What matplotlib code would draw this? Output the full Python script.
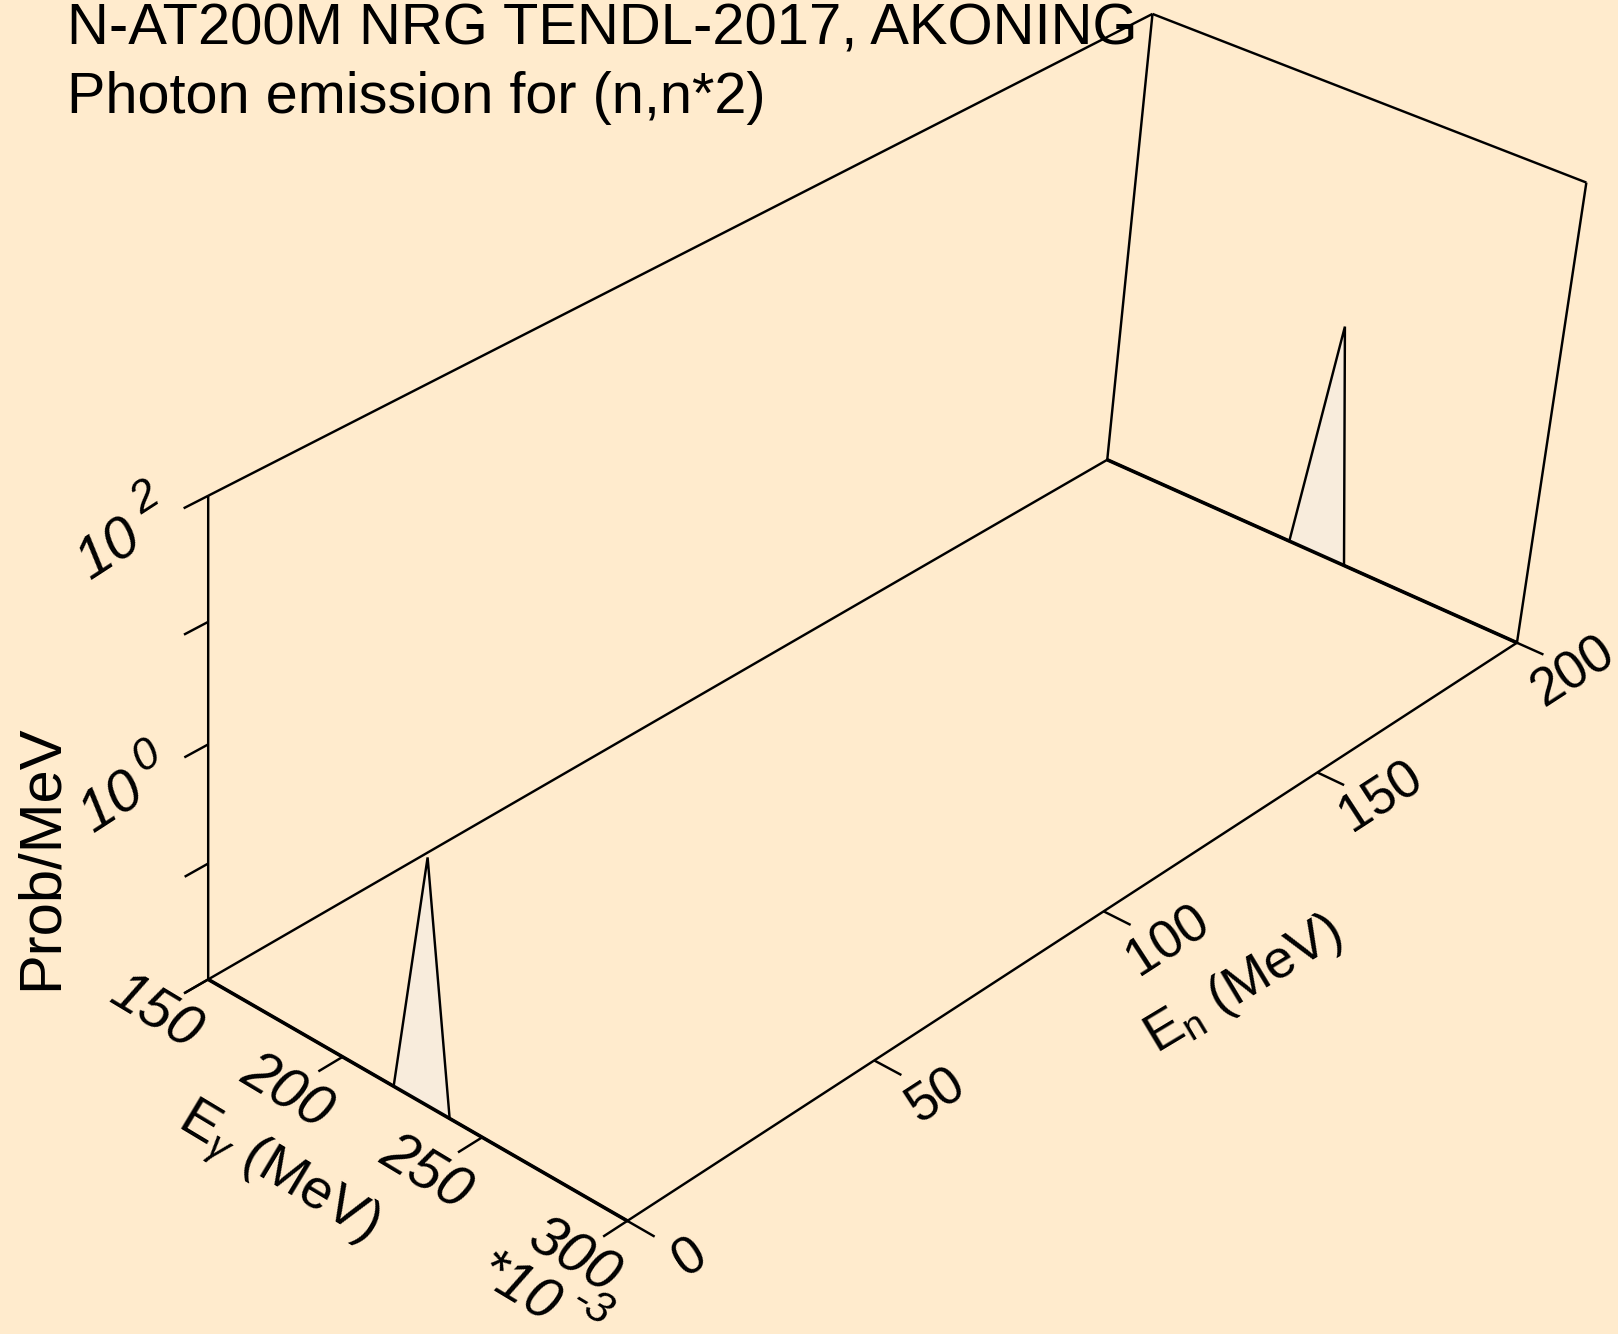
import numpy as np
import matplotlib
matplotlib.use('Agg')
import matplotlib.pyplot as plt

# Data
e_gamma = [150, 218.5, 228.4, 238.5, 300]  # *10^-3 MeV
prob = [0.01, 0.01, 1.12, 0.01, 0.01]
e_n_curves = [0, 200]

eg_lim = (150, 300)
en_lim = (0, 200)
prob_lim = (0.01, 100)
eg_ticks = [150, 200, 250, 300]
eg_labels = ['150', '200', '250', '300']
en_ticks = [0, 50, 100, 150, 200]
en_labels = ['0', '50', '100', '150', '200']
prob_ticks = [0.01, 0.1, 1, 10, 100]

title_lines = ['N-AT200M NRG TENDL-2017, AKONING', 'Photon emission for (n,n*2)']

# Camera fitted to the box, (u, v, w, 1) -> pixels
camera = np.array([
    [384.209509, 1058.4564553, -11.3963708, 208.1826246],
    [173.4971022, -453.4358564, -510.813463, 979.4067444],
    [-0.0556866, 0.143952, -0.0547989, 1.0],
])

BG = '#FFEBCD'
FILL = '#F8ECDC'


def project(eg, en, p):
    eg, en, p = np.broadcast_arrays(np.asarray(eg, float), np.asarray(en, float), np.asarray(p, float))
    u = (eg - eg_lim[0]) / (eg_lim[1] - eg_lim[0])
    v = (en - en_lim[0]) / (en_lim[1] - en_lim[0])
    w = (np.log10(p) - np.log10(prob_lim[0])) / (np.log10(prob_lim[1]) - np.log10(prob_lim[0]))
    q = camera @ np.vstack([u, v, w, np.ones_like(u)])
    return q[0] / q[2], q[1] / q[2]


plt.rcParams['font.family'] = ['Liberation Sans']
plt.rcParams['mathtext.fontset'] = 'custom'
plt.rcParams['mathtext.rm'] = 'Liberation Sans:italic'
plt.rcParams['mathtext.it'] = 'Liberation Sans:italic'
plt.rcParams['mathtext.sf'] = 'Liberation Sans'
plt.rcParams['mathtext.default'] = 'rm'

fig = plt.figure(figsize=(16.18, 13.34), dpi=100, facecolor=BG)
ax = fig.add_axes([0, 0, 1, 1])
ax.set_xlim(0, 1618)
ax.set_ylim(1334, 0)
ax.axis('off')

line_kw = dict(color='black', lw=1.75, solid_capstyle='butt', solid_joinstyle='miter')
text_kw = dict(ha='center', va='center', rotation_mode='anchor')
eg0, eg1 = eg_lim
en0, en1 = en_lim
p0, p1 = prob_lim

# Box: floor and the two back walls
box_edges = [
    ((eg0, eg1), (en0, en0), (p0, p0)),
    ((eg1, eg1), (en0, en1), (p0, p0)),
    ((eg0, eg1), (en1, en1), (p0, p0)),
    ((eg0, eg0), (en0, en1), (p0, p0)),
    ((eg0, eg0), (en0, en0), (p0, p1)),
    ((eg0, eg0), (en1, en1), (p0, p1)),
    ((eg1, eg1), (en1, en1), (p0, p1)),
    ((eg0, eg0), (en0, en1), (p1, p1)),
    ((eg0, eg1), (en1, en1), (p1, p1)),
]
for eg_e, en_e, p_e in box_edges:
    ax.plot(*project(eg_e, en_e, p_e), **line_kw)

# Spectra
for en in e_n_curves:
    x, y = project(e_gamma, en, prob)
    ax.fill(x, y, facecolor=FILL, edgecolor='none', zorder=3)
    ax.plot(x, y, color='black', lw=1.75, solid_joinstyle='miter', zorder=4)
    ax.plot(*project(eg_lim, en, p0), color='black', lw=2.6, solid_capstyle='butt', zorder=4)

# Ticks
for t in eg_ticks:
    ax.plot(*project(t, [en0, en0 - 4.7], p0), **line_kw)
for t in en_ticks:
    ax.plot(*project([eg1, eg1 + 9.2], t, p0), **line_kw)
for t in prob_ticks:
    ax.plot(*project(eg0, [en0, en0 - 4.5], t), **line_kw)

# Tick labels
eg_pos = [(155, 1013), (286, 1092), (425, 1173), (573, 1257)]
for (x, y), s in zip(eg_pos, eg_labels):
    ax.text(x, y, s, fontsize=41, style='italic', rotation=-31, **text_kw)
en_pos = [(690, 1258), (937, 1096), (1168, 941), (1381, 797), (1573, 672)]
for (x, y), s in zip(en_pos, en_labels):
    ax.text(x, y, s, fontsize=38, rotation=33, **text_kw)
ax.text(109, 550, '10', fontsize=42, style='italic', rotation=33, **text_kw)
ax.text(145, 499, '2', fontsize=32, style='italic', rotation=33, **text_kw)
ax.text(112, 803, '10', fontsize=42, style='italic', rotation=33, **text_kw)
ax.text(146, 757, '0', fontsize=32, style='italic', rotation=33, **text_kw)

# Axis titles
ax.text(277, 1174, r'E$_{\gamma}$ (MeV)', fontsize=40, rotation=-31, **text_kw)
ax.text(1243, 985, r'$\mathsf{E_{n}\ (MeV)}$', fontsize=39, rotation=31, **text_kw)
ax.text(41, 857, 'Prob/MeV', fontsize=43, rotation=90, **text_kw)
ax.text(517, 1290, '*10', fontsize=41, style='italic', rotation=-31, **text_kw)
ax.text(592, 1307, '-3', fontsize=32, style='italic', rotation=-31, **text_kw)

# Title
ax.text(67, 45, title_lines[0], fontsize=41.8, ha='left', va='baseline', zorder=1)
ax.text(67, 113, title_lines[1], fontsize=41.5, ha='left', va='baseline', zorder=1)

fig.savefig('out.png', dpi=100, facecolor=BG)
